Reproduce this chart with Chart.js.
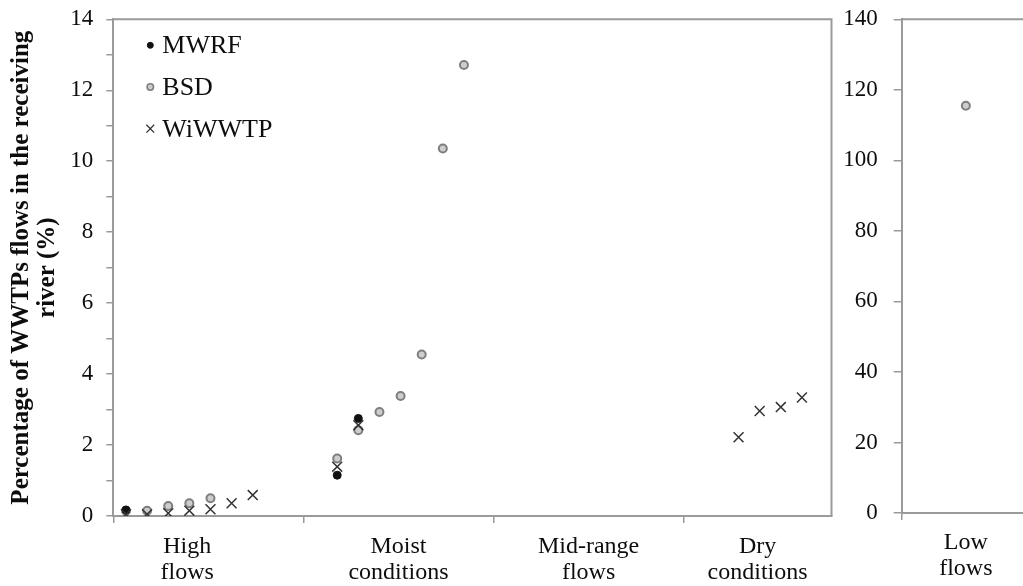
<!DOCTYPE html>
<html><head><meta charset="utf-8">
<script src="https://cdn.jsdelivr.net/npm/chart.js"></script>
<style>
html,body{margin:0;padding:0;background:#fff;width:1023px;height:586px;overflow:hidden;}
#c1{position:absolute;left:0;top:0;}
#c2{position:absolute;left:832px;top:0;}
</style></head><body>
<canvas id="c1" width="840" height="586"></canvas>
<canvas id="c2" width="204" height="586"></canvas>
<script>
// ---------- data ----------
const flowCategories = [['High','flows'],['Moist','conditions'],['Mid-range','flows'],['Dry','conditions']];
const lowFlowCategory = [['Low','flows']];
const seriesNames = ['MWRF','BSD','WiWWTP'];
const samplePositions = [1,2,3,4,5,6,7, 11,12,13,14,15,16,17, 30,31,32,33];
const mwrfValues   = [0.17,null,null,null,null,null,null, 1.15,2.75,null,null,null,null,null, null,null,null,null];
const bsdValues    = [0.15,0.15,0.28,0.36,0.50,null,null, 1.62,2.42,2.93,3.38,4.55,10.36,12.71, null,null,null,null];
const wiwwtpValues = [0.05,0.05,0.08,0.15,0.19,0.36,0.59, 1.39,2.56,null,null,null,null,null, 2.22,2.96,3.07,3.34];
const lowFlowBsdValues = [115.5];
const leftTickLabels = [0,2,4,6,8,10,12,14];
const rightTickLabels = [0,20,40,60,80,100,120,140];

// ---------- layout / style config ----------
const SERIF = '"Liberation Serif", "Times New Roman", serif';
const AXIS = '#9a9a9a';
const TEXT = '#0d0d0d';
const xRange = {min: 0.4, max: 34.4};
const categoryBounds = [0.4, 9.4, 18.4, 27.4];
const categoryLabelAt = [3.9, 13.9, 22.9, 30.9];

const styleOf = {
  MWRF:   {pointStyle:'circle',   radius:4, bg:'#111111', border:'#111111', bw:1,   lr:3,   lbw:1},
  BSD:    {pointStyle:'circle',   radius:4, bg:'#cdcdcd', border:'#7f7f7f', bw:2,   lr:3.2, lbw:1.6},
  WiWWTP: {pointStyle:'crossRot', radius:7, bg:'rgba(0,0,0,0)', border:'#333333', bw:1.5, lr:5.5, lbw:1.3}
};
const drawOrder = {MWRF:2, BSD:3, WiWWTP:1};

function points(vals){
  return samplePositions.map((x,i)=>({x:x, y:vals[i]})).filter(p=>p.y!==null);
}
function ds(name, data){
  const s = styleOf[name];
  return {label:name, data:data, order:drawOrder[name], showLine:false,
    pointStyle:s.pointStyle, pointRadius:s.radius, pointHoverRadius:s.radius,
    pointBackgroundColor:s.bg, pointBorderColor:s.border, pointBorderWidth:s.bw};
}
function noPadV(s, w){ s.width = w; s.paddingTop = 0; s.paddingBottom = 0; }
function noPadH(s, h){ s.height = h; s.paddingLeft = 0; s.paddingRight = 0; }

const framePlugin = {
  id:'frame',
  afterDraw(chart, args, opts){
    const {ctx, chartArea:a} = chart;
    ctx.save();
    ctx.strokeStyle = AXIS; ctx.lineWidth = 2;
    ctx.beginPath();
    ctx.moveTo(a.left, a.top); ctx.lineTo(a.right + 1, a.top);
    if (opts.right) { ctx.moveTo(a.right, a.top); ctx.lineTo(a.right, a.bottom); }
    ctx.stroke();
    ctx.restore();
  }
};

const legendPlugin = {
  id:'innerLegend',
  afterDraw(chart, args, opts){
    if (!opts.show) return;
    const ctx = chart.ctx;
    const a = chart.chartArea;
    ctx.save();
    chart.data.datasets.forEach((d, i) => {
      const s = styleOf[d.label];
      const y = a.top + 26 + i * 41.7;
      const x = a.left + 37;
      ctx.fillStyle = s.bg; ctx.strokeStyle = s.border; ctx.lineWidth = s.lbw;
      Chart.helpers.drawPoint(ctx, {pointStyle:s.pointStyle, radius:s.lr, borderWidth:s.lbw, rotation:0}, x, y);
      ctx.fillStyle = TEXT;
      ctx.font = '26px ' + SERIF;
      ctx.textBaseline = 'middle';
      ctx.textAlign = 'left';
      ctx.fillText(d.label, x + 12, y + 1);
    });
    ctx.restore();
  }
};

new Chart(document.getElementById('c1'), {
  type:'scatter',
  data:{datasets:[
    ds('MWRF', points(mwrfValues)),
    ds('BSD', points(bsdValues)),
    ds('WiWWTP', points(wiwwtpValues))
  ]},
  options:{
    responsive:false, animation:false, devicePixelRatio:1,
    layout:{padding:{left:0, right:8.3, top:19.3, bottom:0}},
    plugins:{legend:{display:false}, tooltip:{enabled:false}, frame:{right:true}, innerLegend:{show:true}},
    scales:{
      x:{type:'linear', min:xRange.min, max:xRange.max,
        afterBuildTicks: s => {
          s.ticks = categoryBounds.concat(categoryLabelAt).sort((a,b)=>a-b).map(v=>({value:v}));
        },
        afterFit: s => noPadH(s, 70),
        grid:{drawOnChartArea:false, drawTicks:true, tickLength:7, lineWidth:1.5,
          color: c => (c.tick && c.tick.label && c.tick.label !== '') ? 'rgba(0,0,0,0)' : AXIS},
        border:{color:AXIS, width:2},
        ticks:{autoSkip:false, maxRotation:0, minRotation:0, padding:11, color:TEXT,
          font:{family:SERIF, size:24, lineHeight:26/24},
          callback: v => {
            const i = categoryLabelAt.findIndex(p => Math.abs(p - v) < 1e-6);
            return i >= 0 ? flowCategories[i] : '';
          }}
      },
      y:{type:'linear', min:0, max:14,
        afterFit: s => noPadV(s, 113.3),
        grid:{drawOnChartArea:false, drawTicks:true, tickLength:7, lineWidth:1.5, color:AXIS},
        border:{color:AXIS, width:2},
        ticks:{stepSize:1, autoSkip:false, padding:13, color:TEXT,
          font:{family:SERIF, size:23},
          callback: v => leftTickLabels.includes(v) ? String(v) : ''},
        title:{display:true, text:['Percentage of WWTPs flows in the receiving','river (%)'],
          color:'#0d0d0d', padding:{top:9, bottom:0},
          font:{family:SERIF, size:25, weight:'bold', lineHeight:26/25}}
      }
    }
  },
  plugins:[framePlugin, legendPlugin]
});

new Chart(document.getElementById('c2'), {
  type:'line',
  data:{labels: lowFlowCategory, datasets:[ ds('BSD', lowFlowBsdValues) ]},
  options:{
    responsive:false, animation:false, devicePixelRatio:1,
    layout:{padding:{left:0, right:0, top:19.3, bottom:0}},
    plugins:{legend:{display:false}, tooltip:{enabled:false}, frame:{right:false}, innerLegend:{show:false}},
    scales:{
      x:{type:'category', offset:true,
        afterFit: s => noPadH(s, 73),
        grid:{offset:true, drawOnChartArea:false, drawTicks:true, tickLength:7, lineWidth:1.5, color:AXIS},
        border:{color:AXIS, width:2},
        ticks:{autoSkip:false, maxRotation:0, minRotation:0, padding:10, color:TEXT,
          font:{family:SERIF, size:24, lineHeight:26/24}}
      },
      y:{type:'linear', min:0, max:140,
        afterFit: s => noPadV(s, 69.7),
        grid:{drawOnChartArea:false, drawTicks:true, tickLength:8, lineWidth:1.5, color:AXIS},
        border:{color:AXIS, width:2},
        ticks:{stepSize:20, autoSkip:false, padding:16, color:TEXT,
          font:{family:SERIF, size:23},
          callback: v => rightTickLabels.includes(v) ? String(v) : ''}
      }
    }
  },
  plugins:[framePlugin, legendPlugin]
});
</script>
</body></html>
